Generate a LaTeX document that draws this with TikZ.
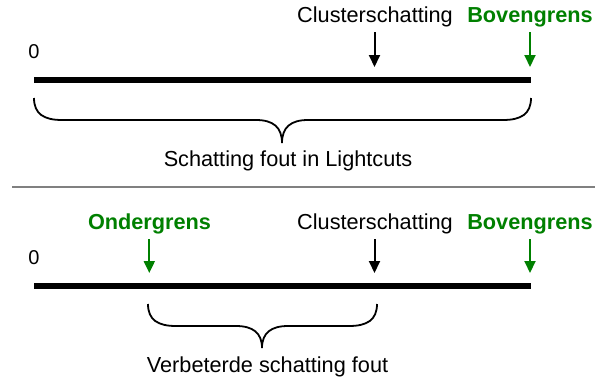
\documentclass[tikz,border=0pt]{standalone}
\usepackage{fontspec}
\setmainfont{Liberation Sans}
\usetikzlibrary{arrows.meta}
\definecolor{grn}{RGB}{0,128,0}
\tikzset{
  lbl/.style={inner sep=0pt, anchor=base, font=\fontsize{21.7}{26}\selectfont},
  glbl/.style={lbl, text=grn, font=\fontsize{21.7}{26}\selectfont\bfseries},
  zero/.style={inner sep=0pt, anchor=base, font=\fontsize{20}{24}\selectfont},
  bar/.style={line width=6pt},
  arr/.style={line width=2pt, -{Triangle[length=12pt,width=11pt]}},
  garr/.style={arr, draw=grn, -{Triangle[length=12pt,width=11pt,fill=grn]}},
  brace/.style={line width=1.8pt},
  sep/.style={draw=gray, line width=1.8pt}
}
\begin{document}
\begin{tikzpicture}[x=1pt,y=-1pt]
\useasboundingbox (0,0) rectangle (595,381);
% ---------- top ----------
\node[zero] (z1) at (34,58) {0};
\node[lbl] (c1) at (375,22.5) {Clusterschatting};
\node[glbl] (b1) at (530,22.5) {Bovengrens};
\coordinate (l1) at (34,80);
\coordinate (r1) at (531,80);
\draw[bar] (l1) -- (r1);
\coordinate (c1s) at (374.5,32);
\coordinate (c1e) at (374.5,67);
\draw[arr] (c1s) -- (c1e);
\coordinate (b1s) at (530,32);
\coordinate (b1e) at (530,67);
\draw[garr] (b1s) -- (b1e);
\coordinate (br1a) at (34,98);
\coordinate (br1t) at (282,143);
\coordinate (br1b) at (531,98);
\draw[brace] (br1a) .. controls (34,114) and (44,120) .. (62,120)
  -- (256,120) .. controls (273,120) and (282,127) .. (br1t)
  .. controls (282,127) and (291,120) .. (308,120)
  -- (503,120) .. controls (521,120) and (531,114) .. (br1b);
\node[lbl] (t1) at (288,166.7) {Schatting fout in Lightcuts};
% ---------- separator ----------
\coordinate (s1) at (12,186.7);
\coordinate (s2) at (595,186.7);
\draw[sep] (s1) -- (s2);
% ---------- bottom ----------
\node[zero] (z2) at (34,264) {0};
\node[glbl] (o2) at (149.5,229.5) {Ondergrens};
\node[lbl] (c2) at (375,229.5) {Clusterschatting};
\node[glbl] (b2) at (530,229.5) {Bovengrens};
\coordinate (l2) at (34,286);
\coordinate (r2) at (531,286);
\draw[bar] (l2) -- (r2);
\coordinate (o2s) at (149.3,239);
\coordinate (o2e) at (149.3,273);
\draw[garr] (o2s) -- (o2e);
\coordinate (c2s) at (374.5,239);
\coordinate (c2e) at (374.5,273);
\draw[arr] (c2s) -- (c2e);
\coordinate (b2s) at (530,239);
\coordinate (b2e) at (530,273);
\draw[garr] (b2s) -- (b2e);
\coordinate (br2a) at (148,304);
\coordinate (br2t) at (262,348);
\coordinate (br2b) at (377,304);
\draw[brace] (br2a) .. controls (148,320) and (158,326) .. (176,326)
  -- (236,326) .. controls (253,326) and (262,333) .. (br2t)
  .. controls (262,333) and (271,326) .. (288,326)
  -- (349,326) .. controls (367,326) and (377,320) .. (br2b);
\node[lbl] (t2) at (267.5,372.5) {Verbeterde schatting fout};
\end{tikzpicture}
\end{document}
